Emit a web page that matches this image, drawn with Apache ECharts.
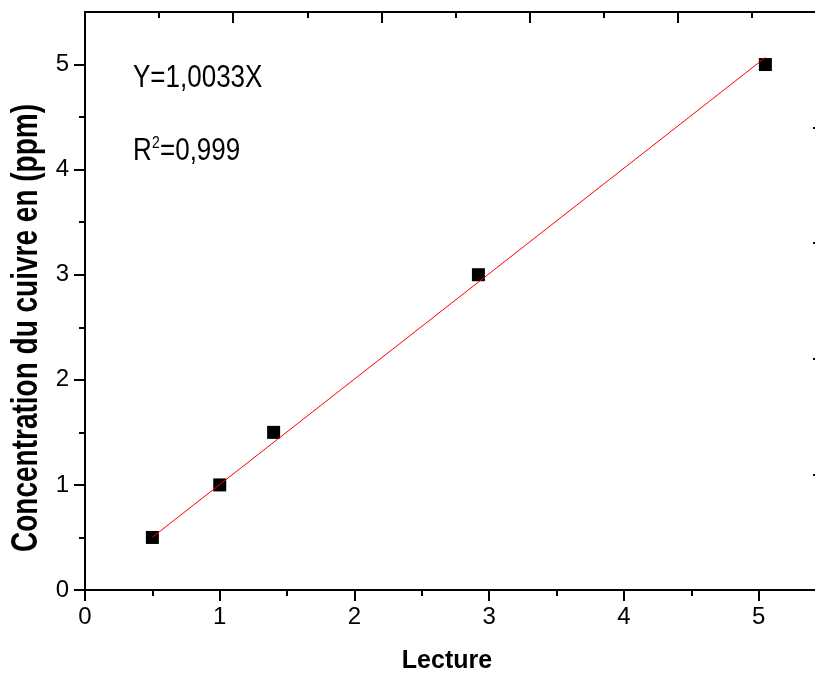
<!DOCTYPE html>
<html>
<head>
<meta charset="utf-8">
<script src="https://cdn.jsdelivr.net/npm/echarts@6/dist/echarts.min.js"></script>
<style>
  html, body { margin: 0; padding: 0; background: #fff; }
  #main { width: 815px; height: 677px; }
</style>
</head>
<body>
<div id="main"></div>
<script>
// measured points
var pointsX = [0.5, 1.0, 1.4, 2.92, 5.05];
var pointsY = [0.5, 1.0, 1.5, 3.0, 5.0];

// fitted line Y=1,0033X, drawn between its two ends
var fitX = [0.5, 5.05];
var fitY = [0.502, 5.067];

// tick positions
var xMajorTicks = [0, 1, 2, 3, 4, 5];
var xMinorTicks = [0.5, 1.5, 2.5, 3.5, 4.5];
var yMajorTicks = [0, 1, 2, 3, 4, 5];
var yMinorTicks = [0.5, 1.5, 2.5, 3.5, 4.5];

var FONT = 'Liberation Sans, Arial, sans-serif';

var chart = echarts.init(document.getElementById('main'), null, { renderer: 'canvas' });

function pairs(xs, ys) {
  var out = [];
  for (var i = 0; i < xs.length; i++) out.push([xs[i], ys[i]]);
  return out;
}

var black = { color: '#000', width: 2 };
var gridBox = { left: 85, right: -11, top: 12, bottom: 87, containLabel: false, outerBoundsMode: 'none' };

var option = {
  backgroundColor: '#fff',
  animation: false,
  // grid 1 only carries the short half-unit ticks of the bottom and left axes
  grid: [gridBox, gridBox],
  xAxis: [
    {
      gridIndex: 0, type: 'value', position: 'bottom', min: 0, max: 5.5, interval: 0.5,
      axisLine: { onZero: false, lineStyle: black },
      axisTick: { customValues: xMajorTicks, length: 11, lineStyle: black },
      axisLabel: { customValues: xMajorTicks, color: '#000', fontSize: 24, fontFamily: FONT, margin: 15 },
      splitLine: { show: false }
    },
    {
      gridIndex: 0, type: 'value', position: 'top', min: 0, max: 5, interval: 1,
      axisLine: { onZero: false, lineStyle: black },
      axisTick: { inside: true, length: 11, lineStyle: black },
      minorTick: { show: true, splitNumber: 2, length: 6, lineStyle: black },
      axisLabel: { show: false },
      splitLine: { show: false },
      minorSplitLine: { show: false }
    },
    {
      gridIndex: 1, type: 'value', position: 'bottom', min: 0, max: 5.5, interval: 0.5,
      axisLine: { show: false, onZero: false },
      axisTick: { customValues: xMinorTicks, length: 6, lineStyle: black },
      axisLabel: { show: false },
      splitLine: { show: false }
    }
  ],
  yAxis: [
    {
      gridIndex: 0, type: 'value', position: 'left', min: 0, max: 5.5, interval: 0.5,
      axisLine: { onZero: false, lineStyle: black },
      axisTick: { customValues: yMajorTicks, length: 11, lineStyle: black },
      axisLabel: { customValues: yMajorTicks, color: '#000', fontSize: 24, fontFamily: FONT, margin: 16 },
      splitLine: { show: false }
    },
    {
      gridIndex: 0, type: 'value', position: 'right', min: 0, max: 5, interval: 1,
      axisLine: { onZero: false, lineStyle: black },
      axisTick: { inside: true, length: 13, lineStyle: black },
      minorTick: { show: true, splitNumber: 2, length: 6, lineStyle: black },
      axisLabel: { show: false },
      splitLine: { show: false },
      minorSplitLine: { show: false }
    },
    {
      gridIndex: 1, type: 'value', position: 'left', min: 0, max: 5.5, interval: 0.5,
      axisLine: { show: false, onZero: false },
      axisTick: { customValues: yMinorTicks, length: 6, lineStyle: black },
      axisLabel: { show: false },
      splitLine: { show: false }
    }
  ],
  series: [
    {
      type: 'scatter',
      xAxisIndex: 0, yAxisIndex: 0,
      symbol: 'rect',
      symbolSize: 13,
      itemStyle: { color: '#000', opacity: 1 },
      data: pairs(pointsX, pointsY),
      z: 2
    },
    {
      type: 'line',
      xAxisIndex: 0, yAxisIndex: 0,
      showSymbol: false,
      symbol: 'none',
      lineStyle: { color: '#ff0000', width: 1 },
      data: pairs(fitX, fitY),
      z: 5
    }
  ],
  graphic: [
    {
      type: 'text', x: 133, y: 78.5, scaleY: 1.24,
      style: { text: 'Y=1,0033X', font: '26px ' + FONT, fill: '#000', verticalAlign: 'middle' }
    },
    {
      type: 'text', x: 133, y: 151.5, scaleY: 1.24,
      style: { text: 'R', font: '26px ' + FONT, fill: '#000', verticalAlign: 'middle' }
    },
    {
      type: 'text', x: 152, y: 143, scaleY: 1.24,
      style: { text: '2', font: '14px ' + FONT, fill: '#000', verticalAlign: 'middle' }
    },
    {
      type: 'text', x: 160, y: 151.5, scaleY: 1.24,
      style: { text: '=0,999', font: '26px ' + FONT, fill: '#000', verticalAlign: 'middle' }
    },
    {
      type: 'text', x: 447, y: 661, scaleY: 1.06,
      style: { text: 'Lecture', font: 'bold 25px ' + FONT, fill: '#000', align: 'center', verticalAlign: 'middle' }
    },
    {
      type: 'text', x: 27, y: 328, rotation: Math.PI / 2, scaleY: 1.3,
      style: { text: 'Concentration du cuivre en (ppm)', font: 'bold 28px ' + FONT, fill: '#000', align: 'center', verticalAlign: 'middle' }
    }
  ]
};

chart.setOption(option);
</script>
</body>
</html>
